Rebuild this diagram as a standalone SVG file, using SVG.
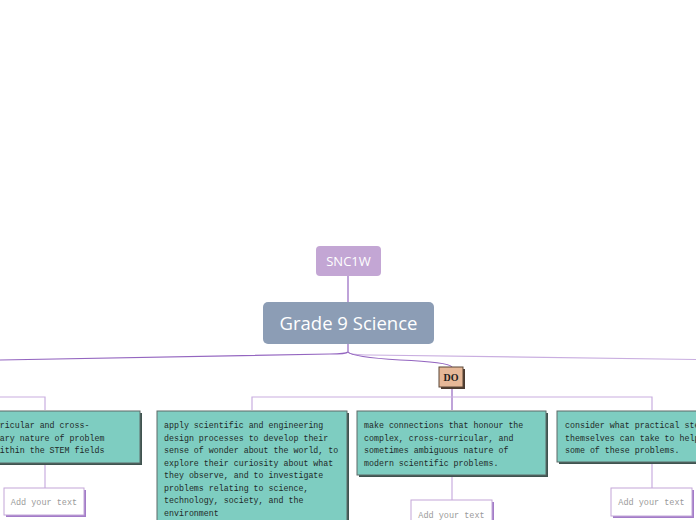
<svg xmlns="http://www.w3.org/2000/svg" width="696" height="520" viewBox="0 0 696 520">
<style>
.main{stroke:#9466c0;stroke-width:1.2;fill:none}
.sub{stroke:#c9aee0;stroke-width:1.2;fill:none}
.teal{fill:#7ecdc1;stroke:#5f6b68;stroke-width:1}
.tshadow{fill:#3f5450}
.tt{font-family:"Liberation Mono",monospace;font-size:8.3px;fill:#1e2a28}
.add{fill:#ffffff;stroke:#c3a6d8;stroke-width:1}
.ashadow{fill:#a37cc8}
.at{font-family:"Liberation Mono",monospace;font-size:8.5px;fill:#9a9a9a;text-anchor:middle}
.wt{font-family:"Open Sans","Noto Sans",sans-serif;fill:#ffffff;text-anchor:middle}
</style>
<rect width="696" height="520" fill="#ffffff"/>
<g id="connectors">
<path class="main" d="M348 276 V302"/>
<path class="main" d="M348 344 V352 Q346 354 330 354 L0 360"/>
<path class="sub" d="M348 352 Q350 355 370 355 L696 359.5"/>
<path class="main" d="M348 352 Q352 357 400 360 Q448 362 452 367"/>
<path class="main" d="M452 387 V410"/>
<path class="sub" d="M252 410 V397 H652 V410"/>
<path class="sub" d="M0 397 H45 V410"/>
<path class="sub" d="M45 463 V488"/>
<path class="sub" d="M452 475 V500"/>
<path class="sub" d="M652 462 V488"/>
</g>
<g id="snc1w">
<rect x="316" y="246" width="65" height="30" rx="4" fill="#c3a6d4"/>
<text class="wt" x="348.5" y="265.5" font-size="13">SNC1W</text>
</g>
<g id="grade9">
<rect x="263" y="302" width="171" height="42" rx="5" fill="#8c9db5"/>
<text class="wt" x="348.5" y="329.5" font-size="18.5">Grade 9 Science</text>
</g>
<g id="do">
<rect x="441" y="369" width="24" height="20" fill="#4a3a30"/>
<rect x="439" y="367" width="24" height="20" fill="#e6b898" stroke="#5a4636" stroke-width="1"/>
<text x="451" y="380.5" font-family="Liberation Serif,serif" font-weight="bold" font-size="10" fill="#222" text-anchor="middle">DO</text>
</g>
<g id="node-left">
<rect class="tshadow" x="-51" y="413" width="193" height="52"/>
<rect class="teal" x="-53" y="411" width="193" height="52"/>
<text class="tt"><tspan x="-45" y="428">cross-curricular and cross-</tspan><tspan x="-45" y="440.5">disciplinary nature of problem</tspan><tspan x="-45" y="453">solving within the STEM fields</tspan></text>
</g>
<g id="node-apply">
<rect class="tshadow" x="159" y="413" width="190" height="112"/>
<rect class="teal" x="157" y="411" width="190" height="112"/>
<text class="tt"><tspan x="164" y="428">apply scientific and engineering</tspan><tspan x="164" y="440.5">design processes to develop their</tspan><tspan x="164" y="453">sense of wonder about the world, to</tspan><tspan x="164" y="465.5">explore their curiosity about what</tspan><tspan x="164" y="478">they observe, and to investigate</tspan><tspan x="164" y="490.5">problems relating to science,</tspan><tspan x="164" y="503">technology, society, and the</tspan><tspan x="164" y="515.5">environment</tspan></text>
</g>
<g id="node-make">
<rect class="tshadow" x="359" y="413" width="189" height="64"/>
<rect class="teal" x="357" y="411" width="189" height="64"/>
<text class="tt"><tspan x="364" y="428">make connections that honour the</tspan><tspan x="364" y="440.5">complex, cross-curricular, and</tspan><tspan x="364" y="453">sometimes ambiguous nature of</tspan><tspan x="364" y="465.5">modern scientific problems.</tspan></text>
</g>
<g id="node-consider">
<rect class="tshadow" x="559" y="413" width="190" height="51"/>
<rect class="teal" x="557" y="411" width="190" height="51"/>
<text class="tt"><tspan x="565" y="428">consider what practical steps they</tspan><tspan x="565" y="440.5">themselves can take to help solve</tspan><tspan x="565" y="453">some of these problems.</tspan></text>
</g>
<g id="add-left">
<rect class="ashadow" x="6" y="490" width="80" height="27"/>
<rect class="add" x="4" y="488" width="80" height="27"/>
<text class="at" x="44" y="505">Add your text</text>
</g>
<g id="add-make">
<rect class="ashadow" x="413" y="502" width="81" height="27"/>
<rect class="add" x="411" y="500" width="81" height="27"/>
<text class="at" x="451.5" y="517.5">Add your text</text>
</g>
<g id="add-consider">
<rect class="ashadow" x="613" y="490" width="81" height="28"/>
<rect class="add" x="611" y="488" width="81" height="28"/>
<text class="at" x="651.5" y="505">Add your text</text>
</g>
</svg>
